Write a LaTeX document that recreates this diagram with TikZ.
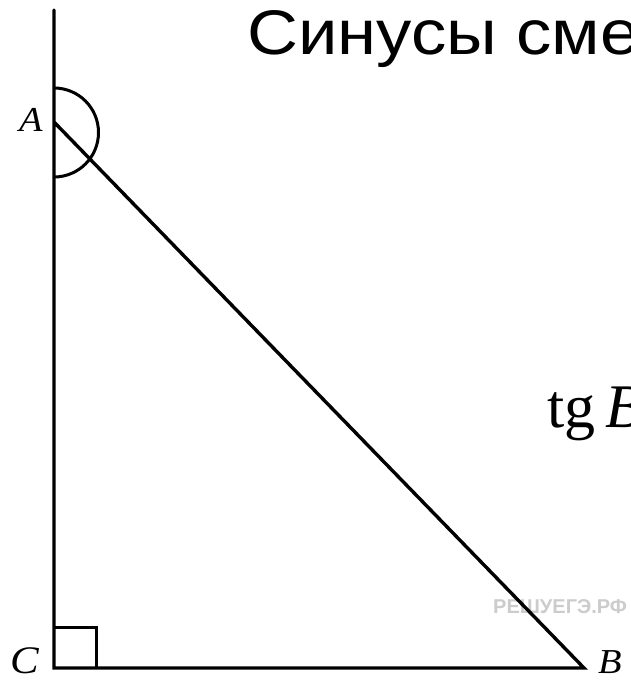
\documentclass[tikz,border=0pt]{standalone}
\usepackage{fontspec}
\setmainfont{Liberation Serif}
\newfontfamily\titlefont[FakeStretch=1.12]{Liberation Sans}
\newfontfamily\wmfont{Liberation Sans}
\newfontfamily\labfont[FakeStretch=1.1]{Liberation Serif}
\begin{document}
\begin{tikzpicture}[x=1pt,y=-1pt,
  edge/.style={line width=3.4pt,line cap=round,line join=miter},
  vlabel/.style={inner sep=0pt,font=\labfont\fontsize{35}{35}\selectfont\itshape},
  wmark/.style={inner sep=0pt,text=black!20,font=\wmfont\bfseries\fontsize{20}{20}\selectfont}]
\useasboundingbox (0,0) rectangle (630,680);
\clip (0,0) rectangle (630,680);
\fill[white] (0,0) rectangle (630,680);
% points
\coordinate (T) at (54,10);
\coordinate (A) at (54,122);
\coordinate (C) at (54,668);
\coordinate (B) at (584,668);
% watermark
\node[wmark,anchor=base west] (wm) at (493,613) {РЕШУЕГЭ.РФ};
% triangle
\draw[edge] (T) -- (C) -- (B) -- (A);
% right angle mark
\draw[line width=3pt] (54,627) -- (96,627) -- (96,668);
% angle arc at A
\draw[line width=3pt] (54,88) arc[start angle=-90,end angle=90,radius=44.5];
% labels
\node[vlabel,anchor=base] (la) at (31,131) {A};
\node[vlabel,anchor=base,font=\labfont\fontsize{39}{39}\selectfont\itshape] (lc) at (25,673) {C};
\node[vlabel,anchor=base,font=\labfont\fontsize{35}{35}\selectfont\itshape] (lb) at (610,673) {B};
% title
\node[inner sep=0pt,anchor=base west,font=\titlefont\fontsize{63}{63}\selectfont] (title) at (247,54) {Синусы сме};
% formula fragment
\node[inner sep=0pt,anchor=base west,font=\fontsize{62}{62}\selectfont] (tg) at (547,427) {tg\kern10pt\textit{B}};
\end{tikzpicture}
\end{document}
